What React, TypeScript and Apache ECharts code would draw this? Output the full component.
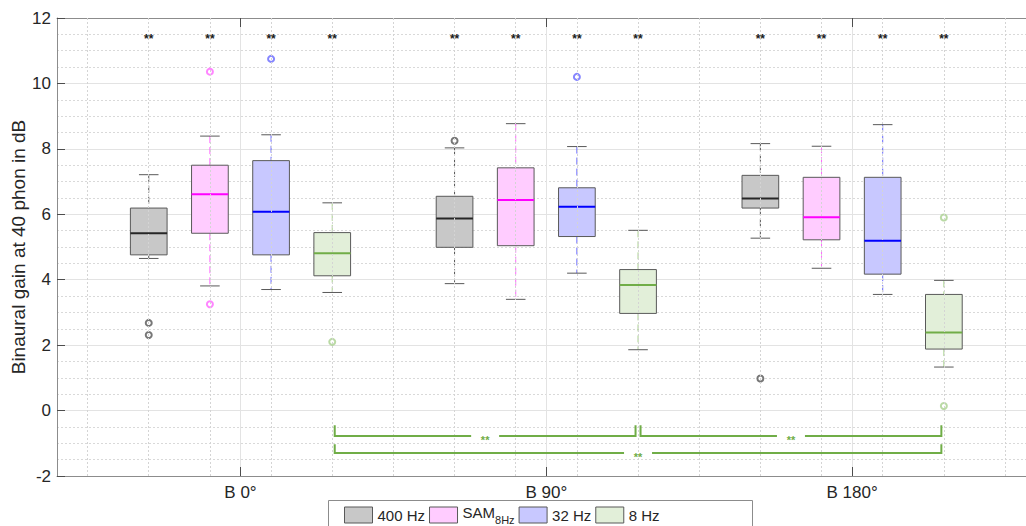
import React, { useEffect, useRef } from 'react';
import * as echarts from 'echarts';

// ---------- data ----------
const GROUPS = ['B 0°', 'B 90°', 'B 180°'];
const GROUP_POS = [1, 2, 3];
const SERIES_NAMES = ['400 Hz', 'SAM8Hz', '32 Hz', '8 Hz'];
const OFFSETS = [-0.3, -0.1, 0.1, 0.3];

// [lower whisker, Q1, median, Q3, upper whisker] per group
const STATS_400 = [
  [4.65, 4.76, 5.42, 6.19, 7.21],
  [3.88, 4.99, 5.87, 6.55, 8.03],
  [5.27, 6.19, 6.48, 7.19, 8.16],
];
const STATS_SAM = [
  [3.81, 5.42, 6.61, 7.5, 8.39],
  [3.4, 5.04, 6.44, 7.42, 8.77],
  [4.35, 5.22, 5.91, 7.13, 8.08],
];
const STATS_32 = [
  [3.7, 4.76, 6.08, 7.64, 8.43],
  [4.2, 5.32, 6.23, 6.81, 8.07],
  [3.55, 4.17, 5.19, 7.13, 8.74],
];
const STATS_8 = [
  [3.61, 4.12, 4.81, 5.44, 6.35],
  [1.86, 2.97, 3.84, 4.31, 5.51],
  [1.33, 1.88, 2.39, 3.55, 3.98],
];
// outliers: [group index, value]
const OUT_400 = [[0, 2.68], [0, 2.31], [1, 8.25], [2, 0.98]];
const OUT_SAM = [[0, 10.36], [0, 3.25]];
const OUT_32 = [[0, 10.75], [1, 10.2]];
const OUT_8 = [[0, 2.1], [2, 5.9], [2, 0.14]];

const SIG_LABEL = '**';
const SIG_Y = 11.36;
// brackets between the 8 Hz boxes: [from group, to group, top of ends, level]
const BRACKETS = [
  [0, 1, -0.45, -0.78],
  [1, 2, -0.45, -0.78],
  [0, 2, -1.03, -1.3],
];

const Y_TICKS = [-2, 0, 2, 4, 6, 8, 10, 12];

// ---------- styles ----------
const FONT = 'Liberation Sans, Arial, Helvetica, sans-serif';
const FILLS = ['#c8c8c8', '#ffccff', '#c8c8ff', '#e2efd9'];
const MEDIANS = ['#262626', '#ff00ff', '#0000ff', '#70ad47'];
const WHISKERS = ['#555555', '#ff66ff', '#6666ff', '#a9d18e'];
const OUTLIER_COLORS = ['#555555', '#ff66ff', '#6666ff', '#a9d18e'];
const EDGE = '#595959';
const GREEN = '#70ad47';
const BOX_HALF = 0.06;
const CAP_HALF = 0.032;

const ALL_STATS = [STATS_400, STATS_SAM, STATS_32, STATS_8];
const ALL_OUT = [OUT_400, OUT_SAM, OUT_32, OUT_8];

export default function App() {
  const ref = useRef<HTMLDivElement>(null);

  useEffect(() => {
    if (!ref.current) return;
    const chart = echarts.init(ref.current, undefined, { renderer: 'svg' });

    const boxPositions: number[] = [];
    GROUP_POS.forEach((g) => OFFSETS.forEach((o) => boxPositions.push(+(g + o).toFixed(3))));
    const minorX: number[] = [];
    GROUP_POS.forEach((g) => {
      [-0.5, ...OFFSETS, 0.5].forEach((o) => {
        const v = +(g + o).toFixed(3);
        if (!minorX.includes(v)) minorX.push(v);
      });
    });

    const boxSeries = ALL_STATS.map((stats, s) => ({
      type: 'custom',
      name: SERIES_NAMES[s],
      z: 3,
      itemStyle: { color: FILLS[s], borderColor: EDGE, borderWidth: 1 },
      encode: { x: 0, y: [1, 2, 3, 4, 5] },
      data: stats.map((st, g) => [+(GROUP_POS[g] + OFFSETS[s]).toFixed(3), ...st]),
      renderItem: (params: any, api: any) => {
        const x = api.value(0);
        const lo = api.value(1), q1 = api.value(2), md = api.value(3), q3 = api.value(4), hi = api.value(5);
        const xc = api.coord([x, md])[0];
        const xl = api.coord([x - BOX_HALF, md])[0];
        const xr = api.coord([x + BOX_HALF, md])[0];
        const cl = api.coord([x - CAP_HALF, md])[0];
        const cr = api.coord([x + CAP_HALF, md])[0];
        const yHi = api.coord([x, hi])[1];
        const yLo = api.coord([x, lo])[1];
        const yQ1 = api.coord([x, q1])[1];
        const yQ3 = api.coord([x, q3])[1];
        const yMd = api.coord([x, md])[1];
        const dash = { stroke: WHISKERS[s], lineWidth: 1, lineDash: [7, 4] };
        return {
          type: 'group',
          children: [
            { type: 'line', shape: { x1: xc, y1: yHi, x2: xc, y2: yQ3 }, style: dash },
            { type: 'line', shape: { x1: xc, y1: yQ1, x2: xc, y2: yLo }, style: dash },
            { type: 'line', shape: { x1: cl, y1: yHi, x2: cr, y2: yHi }, style: { stroke: EDGE, lineWidth: 1 } },
            { type: 'line', shape: { x1: cl, y1: yLo, x2: cr, y2: yLo }, style: { stroke: EDGE, lineWidth: 1 } },
            {
              type: 'rect',
              shape: { x: xl, y: yQ3, width: xr - xl, height: yQ1 - yQ3 },
              style: { fill: FILLS[s], stroke: EDGE, lineWidth: 1 },
            },
            { type: 'line', shape: { x1: xl, y1: yMd, x2: xr, y2: yMd }, style: { stroke: MEDIANS[s], lineWidth: 2 } },
          ],
        };
      },
    }));

    const outlierSeries = ALL_OUT.map((outs, s) => ({
      type: 'scatter',
      name: 'outliers ' + SERIES_NAMES[s],
      z: 4,
      symbol: 'emptyCircle',
      symbolSize: 6,
      itemStyle: { color: OUTLIER_COLORS[s], borderColor: OUTLIER_COLORS[s], borderWidth: 1 },
      data: outs.map(([g, v]) => [+(GROUP_POS[g] + OFFSETS[s]).toFixed(3), v]),
    }));

    const starSeries = {
      type: 'custom',
      name: 'sig',
      z: 5,
      data: boxPositions.map((x) => [x, SIG_Y]),
      encode: { x: 0, y: 1 },
      renderItem: (params: any, api: any) => {
        const p = api.coord([api.value(0), api.value(1)]);
        return {
          type: 'text',
          x: p[0],
          y: p[1],
          style: {
            text: SIG_LABEL,
            fill: '#1a1a1a',
            font: 'bold 12px ' + FONT,
            textAlign: 'center',
            textVerticalAlign: 'middle',
          },
        };
      },
    };

    const last = OFFSETS[OFFSETS.length - 1];
    const bracketSeries = {
      type: 'custom',
      name: 'brackets',
      z: 5,
      data: BRACKETS.map(([a, b, top, lvl]) => [
        +(GROUP_POS[a] + last).toFixed(3),
        +(GROUP_POS[b] + last).toFixed(3),
        top,
        lvl,
      ]),
      encode: { x: [0, 1], y: [2, 3] },
      renderItem: (params: any, api: any) => {
        const xa = api.coord([api.value(0), 0])[0] + 2.5;
        const xb = api.coord([api.value(1), 0])[0] - 2.5;
        const yT = api.coord([0, api.value(2)])[1];
        const yL = api.coord([0, api.value(3)])[1];
        const xm = (xa + xb) / 2;
        const gap = 14;
        const st = { stroke: GREEN, lineWidth: 2, fill: 'none' };
        return {
          type: 'group',
          children: [
            { type: 'polyline', shape: { points: [[xa, yT], [xa, yL], [xm - gap, yL]] }, style: st },
            { type: 'polyline', shape: { points: [[xm + gap, yL], [xb, yL], [xb, yT]] }, style: st },
            {
              type: 'text',
              x: xm,
              y: yL + 4,
              style: {
                text: SIG_LABEL,
                fill: GREEN,
                font: 'bold 11px ' + FONT,
                textAlign: 'center',
                textVerticalAlign: 'middle',
              },
            },
          ],
        };
      },
    };

    const gridSeries = {
      type: 'scatter',
      name: 'grid',
      z: 1,
      silent: true,
      data: [],
      markLine: {
        silent: true,
        symbol: 'none',
        label: { show: false },
        lineStyle: { type: [2, 2], color: '#d4d4d4', width: 1 },
        data: minorX.map((x) => ({ xAxis: x })),
        animation: false,
      },
    };

    const labelFor = (v: number) => {
      const i = GROUP_POS.findIndex((g) => Math.abs(g - v) < 1e-6);
      return i >= 0 ? GROUPS[i] : '';
    };

    chart.setOption({
      animation: false,
      textStyle: { fontFamily: FONT },
      grid: {
        left: 57,
        top: 18,
        width: 978.6,
        height: 458,
        containLabel: false,
        outerBoundsMode: 'none',
      },
      xAxis: [
        {
          type: 'value',
          min: 0.4,
          max: 3.6,
          interval: 1,
          axisLine: { show: true, onZero: false, lineStyle: { color: '#8c8c8c', width: 1 } },
          axisTick: { show: true, inside: true, length: 9, customValues: GROUP_POS, lineStyle: { color: '#4d4d4d' } },
          axisLabel: {
            customValues: GROUP_POS,
            formatter: (v: number) => labelFor(v),
            fontSize: 17,
            color: '#262626',
            margin: 8,
            fontFamily: FONT,
          },
          splitLine: { show: true, lineStyle: { color: '#e3e3e3', width: 1 } },
        },
        {
          type: 'value',
          position: 'top',
          min: 0.4,
          max: 3.6,
          interval: 1,
          axisLine: { show: true, onZero: false, lineStyle: { color: '#8c8c8c', width: 1 } },
          axisTick: { show: true, inside: true, length: 9, customValues: GROUP_POS, lineStyle: { color: '#4d4d4d' } },
          axisLabel: { show: false },
          splitLine: { show: false },
        },
      ],
      yAxis: {
        type: 'value',
        min: Y_TICKS[0],
        max: Y_TICKS[Y_TICKS.length - 1],
        interval: 2,
        name: 'Binaural gain at 40 phon in dB',
        nameLocation: 'middle',
        nameGap: 29,
        nameMoveOverlap: false,
        nameTextStyle: { fontSize: 19, color: '#262626', fontFamily: FONT },
        axisLine: { show: true, onZero: false, lineStyle: { color: '#8c8c8c', width: 1 } },
        axisTick: { show: true, inside: true, length: 8, lineStyle: { color: '#4d4d4d' } },
        axisLabel: { fontSize: 17, color: '#262626', margin: 6, fontFamily: FONT },
        splitLine: { show: true, lineStyle: { color: '#e3e3e3', width: 1 } },
        minorTick: { show: false, splitNumber: 4 },
        minorSplitLine: { show: true, lineStyle: { color: '#d9d9d9', type: [2, 2], width: 1 } },
      },
      legend: {
        left: 344,
        top: 505,
        orient: 'horizontal',
        itemWidth: 28,
        itemHeight: 16,
        itemGap: 4,
        icon: 'rect',
        padding: 0,
        selectedMode: false,
        data: SERIES_NAMES.map((n, s) => ({
          name: n,
          itemStyle: { color: FILLS[s], borderColor: EDGE, borderWidth: 1 },
        })),
        formatter: (name: string) =>
          name === 'SAM8Hz' ? '{b|SAM}{s|8Hz}' : '{n|' + name + '}',
        textStyle: {
          fontSize: 15,
          color: '#262626',
          fontFamily: FONT,
          rich: {
            n: { fontSize: 15, color: '#262626', fontFamily: FONT, lineHeight: 20, verticalAlign: 'middle' },
            b: { fontSize: 15, color: '#262626', fontFamily: FONT, lineHeight: 20, verticalAlign: 'top' },
            s: { fontSize: 11, color: '#262626', fontFamily: FONT, lineHeight: 20, verticalAlign: 'bottom' },
          },
        },
      },
      graphic: {
        elements: [
          {
            type: 'rect',
            x: 328.5,
            y: 500.5,
            z: 0,
            silent: true,
            shape: { x: 0, y: 0, width: 424, height: 40 },
            style: { fill: '#ffffff', stroke: '#8c8c8c', lineWidth: 1 },
          },
        ],
      },
      series: [gridSeries, ...boxSeries, ...outlierSeries, starSeries, bracketSeries],
    });

    return () => chart.dispose();
  }, []);

  return (
    <div
      style={{
        position: 'fixed',
        left: 0,
        top: 0,
        width: 1026,
        height: 526,
        overflow: 'hidden',
        background: '#ffffff',
      }}
    >
      <div ref={ref} style={{ width: 1060, height: 526 }} />
    </div>
  );
}
